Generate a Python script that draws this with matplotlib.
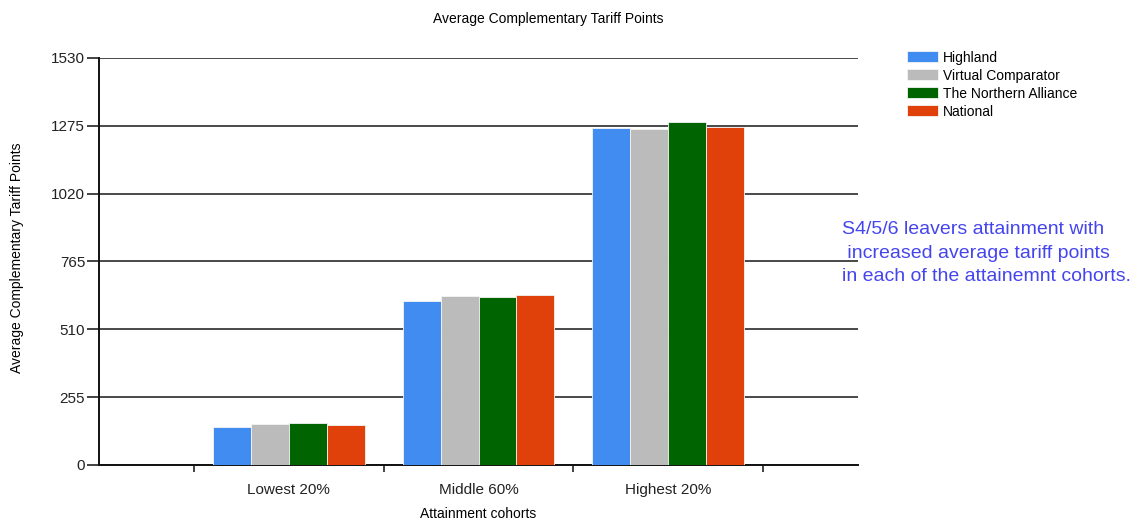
"""Average complementary tariff points by attainment cohort"""

import numpy as np
import matplotlib
matplotlib.use('Agg')
import matplotlib.pyplot as plt

plt.rcParams['font.family'] = ['Liberation Sans', 'DejaVu Sans']

#chart data
cohorts = ['Lowest 20%', 'Middle 60%', 'Highest 20%']
series = ['Highland', 'Virtual Comparator', 'The Northern Alliance', 'National']
highland = [143, 618, 1266]
virtual_comparator = [154, 636, 1262]
northern_alliance = [158, 630, 1289]
national = [149, 638, 1272]
yticks = [0, 255, 510, 765, 1020, 1275, 1530]

values = [highland, virtual_comparator, northern_alliance, national]
colors = ['#418CF0', '#BBBBBB', '#006400', '#E0400A']

fig = plt.figure(figsize=(11.37, 5.2), dpi=100)
ax = fig.add_axes([0.0871, 0.1058, 0.6675, 0.7827])

#grouped bars, categories sit at 1, 2, 3
x = np.arange(1, len(cohorts) + 1)
width = 0.2
for i, (name, vals, col) in enumerate(zip(series, values, colors)):
    offset = (i - 1.5) * width
    ax.bar(x + offset, vals, width, color=col, label=name,
           edgecolor='#f4f4f4', linewidth=0.6, zorder=3)

#axes and grid
ax.set_xlim(0, 4)
ax.set_ylim(0, 1530)
ax.set_yticks(yticks)
ax.set_yticklabels([str(t) for t in yticks], fontsize=11, color='#222222')
ax.tick_params(axis='y', length=9, width=1.2, pad=1, color='#222222')
ax.yaxis.grid(True, color='#2a2a2a', linewidth=1.2, zorder=0)

ax.set_xticks(x)
ax.set_xticklabels(cohorts, fontsize=11, color='#222222')
ax.set_xticks([0.5, 1.5, 2.5, 3.5], minor=True)
ax.tick_params(axis='x', which='major', length=0, pad=13)
ax.tick_params(axis='x', which='minor', length=5, width=1.2, color='#222222')

for side in ['top', 'right']:
    ax.spines[side].set_visible(False)
for side in ['left', 'bottom']:
    ax.spines[side].set_linewidth(1.4)
    ax.spines[side].set_color('#111111')

ax.set_xlabel('Attainment cohorts', fontsize=10, labelpad=7)
fig.text(0.015, 0.504, 'Average Complementary Tariff Points', rotation=90,
         fontsize=10, ha='center', va='center')
fig.text(548 / 1137, 1 - 19 / 520, 'Average Complementary Tariff Points',
         fontsize=10, ha='center', va='center')

#legend
fig.legend(loc='upper left', bbox_to_anchor=(0.792, 0.916), frameon=False,
           fontsize=10, handlelength=2.2, handleheight=0.85,
           handletextpad=0.35, labelspacing=0.29, borderpad=0)

#side note
fig.text(842 / 1137, 1 - 221 / 520,
         'S4/5/6 leavers attainment with\n increased average tariff points\nin each of the attainemnt cohorts.',
         fontsize=14, color='#4545EE', ha='left', va='top', linespacing=1.5)

fig.savefig('out.png', dpi=100)
